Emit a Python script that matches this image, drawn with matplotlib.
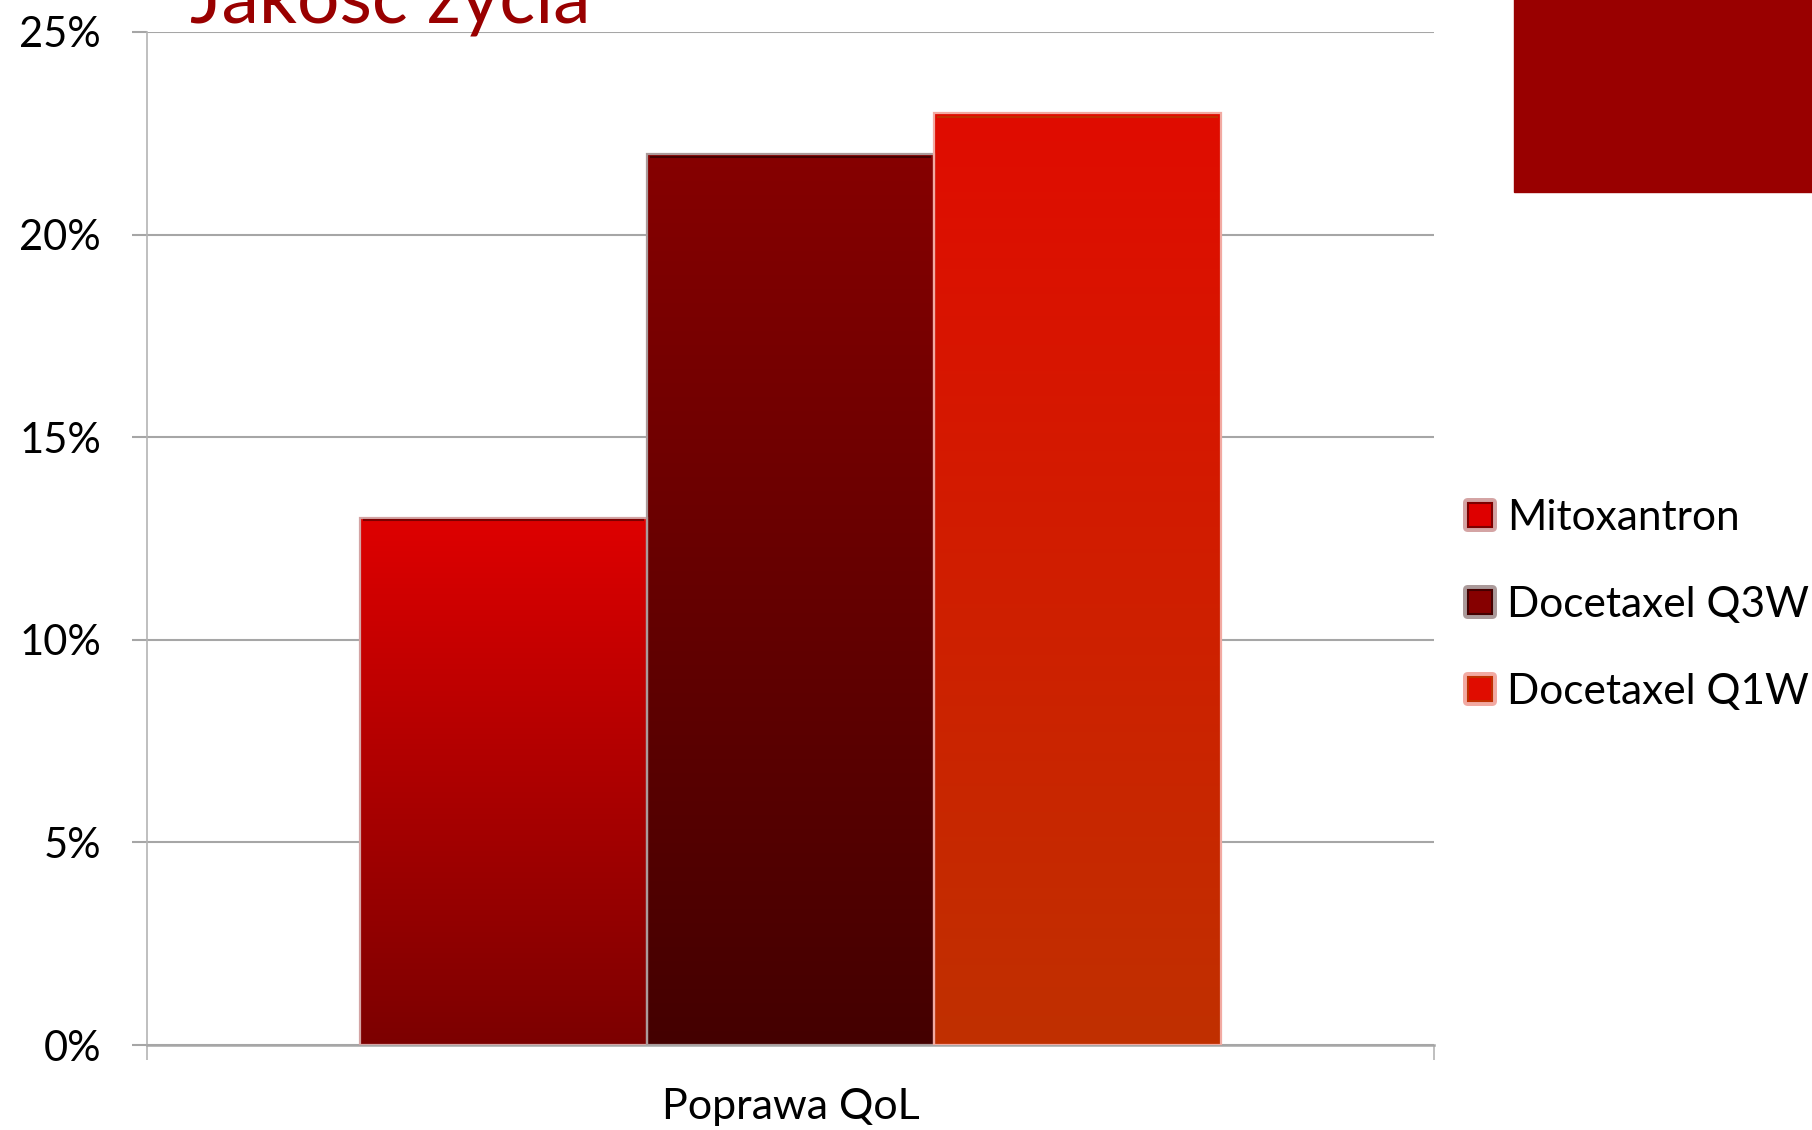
import numpy as np
import matplotlib.pyplot as plt
from matplotlib.colors import LinearSegmentedColormap
from matplotlib.patches import Rectangle, FancyBboxPatch

plt.rcParams['font.family'] = ['Lato', 'DejaVu Sans']

# dane
title = "Jakość życia"
category = "Poprawa QoL"
series = ["Mitoxantron", "Docetaxel Q3W", "Docetaxel Q1W"]
values = [0.13, 0.22, 0.23]
yticks = [0, 0.05, 0.10, 0.15, 0.20, 0.25]

# kolory (gradient od góry do dołu)
top_colors = ["#de0000", "#860000", "#e00c00"]
bottom_colors = ["#7c0000", "#440000", "#c03000"]
edge_colors = ["#d4a4a4", "#ab9a9a", "#f2aaa2"]
grid_color = "#a6a6a6"

fig = plt.figure(figsize=(18.12, 11.3), dpi=100)
ax = fig.add_axes([0.0811, 0.0752, 0.7103, 0.8965])

width = 0.223
offsets = (np.arange(len(series)) - (len(series) - 1) / 2) * width
grad = np.linspace(0, 1, 256).reshape(-1, 1)
for i, (name, v) in enumerate(zip(series, values)):
    b = ax.bar(offsets[i], v, width, color='none', edgecolor=edge_colors[i],
               linewidth=1.6, zorder=3)[0]
    cmap = LinearSegmentedColormap.from_list(name, [bottom_colors[i], top_colors[i]])
    ax.imshow(grad, cmap=cmap, origin='lower', aspect='auto', zorder=2,
              extent=[b.get_x(), b.get_x() + b.get_width(), 0, v])
    # ciemniejsza krawędź u góry słupka
    ax.hlines(v * 0.996, b.get_x() + 0.002, b.get_x() + b.get_width() - 0.002,
              color=bottom_colors[i], lw=1.5, zorder=4)

ax.set_xlim(-0.5, 0.5)
ax.set_ylim(0, 0.25)
ax.set_aspect('auto')

ax.set_yticks(yticks, [f"{round(t * 100)}%" for t in yticks])
ax.yaxis.grid(True, color=grid_color, lw=1.5)
ax.set_axisbelow(True)
ax.tick_params(axis='y', length=11, width=1.5, color=grid_color, pad=22, labelsize=30)

ax.set_xticks([0], [category])
ax.set_xticks([-0.5, 0.5], minor=True)
ax.tick_params(axis='x', which='major', length=0, pad=31, labelsize=31)
ax.tick_params(axis='x', which='minor', length=11, width=1.2, color='#b4b4b4')

for s in ['top', 'right']:
    ax.spines[s].set_visible(False)
ax.spines['left'].set_color('#b4b4b4')
ax.spines['left'].set_linewidth(1.2)
ax.spines['bottom'].set_color(grid_color)
ax.spines['bottom'].set_linewidth(1.8)

# legenda
for i, name in enumerate(series):
    yc = 515 + 87 * i
    fig.add_artist(FancyBboxPatch((14.63, (1130 - yc - 17) / 100), 0.34, 0.34,
                                  boxstyle="round,pad=0,rounding_size=0.05",
                                  transform=fig.dpi_scale_trans,
                                  fc=edge_colors[i], ec='none'))
    fig.add_artist(Rectangle((14.68, (1130 - yc - 12) / 100), 0.24, 0.24,
                             transform=fig.dpi_scale_trans,
                             fc=top_colors[i], ec=bottom_colors[i], lw=1.5))
    fig.text(1507 / 1812, 1 - (yc + 15) / 1130, name, fontsize=30.5, va='baseline')

# tytuł i prostokąt w rogu
fig.text(190 / 1812, 1 - 22 / 1130, title, fontsize=54, color='#990000', va='baseline')
fig.add_artist(Rectangle((1514 / 1812, 1 - 192 / 1130), 1, 1,
                         transform=fig.transFigure, color='#990000'))

fig.savefig('out.png', dpi=100)
